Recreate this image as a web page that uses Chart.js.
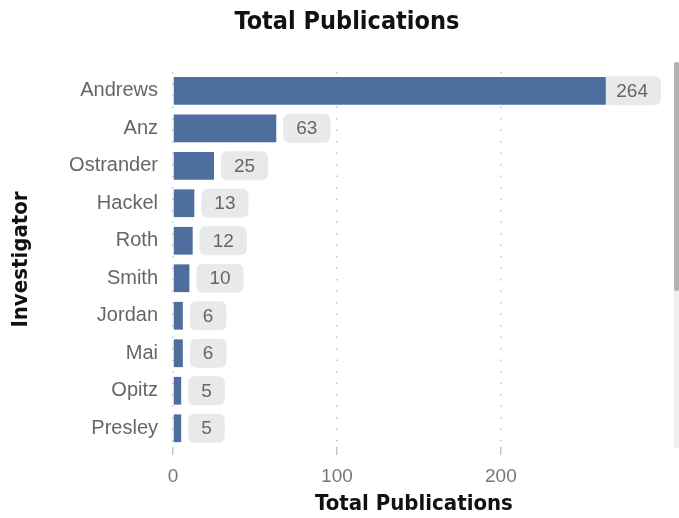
<!DOCTYPE html>
<html>
<head>
<meta charset="utf-8">
<script src="https://cdn.jsdelivr.net/npm/chart.js@4"></script>
<style>
  body { margin: 0; background: #fff; }
  #wrap { position: relative; width: 679px; height: 518px; }
  .track { position: absolute; left: 674px; top: 62px; width: 5px; height: 386px; background: #efefef; border-radius: 2px; }
  .thumb { position: absolute; left: 674px; top: 62px; width: 5px; height: 229px; background: #b3b3b3; border-radius: 2px; }
</style>
</head>
<body>
<div id="wrap">
  <canvas id="pub_Chart" width="679" height="518"></canvas>
  <div class="track"></div>
  <div class="thumb"></div>
</div>
<script>
// data
const investigators = ['Andrews', 'Anz', 'Ostrander', 'Hackel', 'Roth', 'Smith', 'Jordan', 'Mai', 'Opitz', 'Presley'];
const publications = [264, 63, 25, 13, 12, 10, 6, 6, 5, 5];
const xTicks = [0, 100, 200];
const chartTitle = 'Total Publications';

// grey rounded value boxes next to each bar
const valueBoxes = {
  id: 'valueBoxes',
  beforeDatasetsDraw(chart) {
    const ctx = chart.ctx;
    const meta = chart.getDatasetMeta(0);
    ctx.save();
    ctx.font = '19px "Liberation Sans", Arial, sans-serif';
    ctx.textAlign = 'center';
    ctx.textBaseline = 'middle';
    meta.data.forEach((bar, i) => {
      const txt = String(publications[i]);
      const w = ctx.measureText(txt).width + 26;
      const h = 29;
      let x = bar.x + 7;
      if (x + w > 661) x = 661 - w;
      const y = bar.y - h / 2;
      ctx.fillStyle = '#e8e9eb';
      ctx.beginPath();
      ctx.roundRect(x, y, w, h, 6);
      ctx.fill();
      ctx.fillStyle = '#666666';
      ctx.fillText(txt, x + w / 2, bar.y + 1);
    });
    ctx.restore();
  }
};

// main title, drawn a little right of canvas centre like the original visual
const titlePlugin = {
  id: 'titlePlugin',
  afterDraw(chart) {
    const ctx = chart.ctx;
    ctx.save();
    ctx.font = 'bold 25px "DejaVu Sans Condensed", "DejaVu Sans", sans-serif';
    ctx.fillStyle = '#111';
    ctx.textAlign = 'center';
    ctx.textBaseline = 'middle';
    ctx.fillText(chartTitle, 347, 22);
    ctx.restore();
  }
};

const data = {
  labels: investigators,
  datasets: [{
    label: 'Total Publications',
    data: publications,
    backgroundColor: '#4e6e9e',
    borderWidth: 0,
    barPercentage: 0.74,
    categoryPercentage: 1.0
  }]
};

const config = {
  type: 'bar',
  data: data,
  plugins: [valueBoxes, titlePlugin],
  options: {
    indexAxis: 'y',
    responsive: false,
    animation: false,
    layout: { padding: { top: 72, right: 24, left: 0, bottom: 0 } },
    plugins: {
      legend: { display: false },
      tooltip: { enabled: false },
      title: { display: false }
    },
    scales: {
      x: {
        min: 0,
        max: 294,
        afterBuildTicks: (scale) => {
          scale.ticks = xTicks.map(v => ({ value: v }));
        },
        afterFit: (scale) => { scale.height = 71; },
        border: { display: false, dash: [1.5, 10] },
        grid: {
          color: '#c4c4c4',
          lineWidth: 1.5,
          tickLength: 8,
          tickColor: '#c4c4c4'
        },
        ticks: {
          padding: 10,
          color: '#777',
          font: { family: '"Liberation Sans", Arial, sans-serif', size: 19 }
        },
        title: {
          display: true,
          text: 'Total Publications',
          color: '#111',
          font: { family: '"DejaVu Sans Condensed", "DejaVu Sans", sans-serif', size: 22, weight: 'bold' },
          padding: { top: 0, bottom: 1 }
        }
      },
      y: {
        afterFit: (scale) => { scale.width = 173; },
        border: { display: false },
        grid: { display: false },
        ticks: {
          padding: 7,
          color: '#666',
          font: { family: '"Liberation Sans", Arial, sans-serif', size: 20 }
        },
        title: {
          display: true,
          text: 'Investigator',
          color: '#111',
          font: { family: '"DejaVu Sans Condensed", "DejaVu Sans", sans-serif', size: 22, weight: 'bold' },
          padding: { top: 8, bottom: 0 }
        }
      }
    }
  }
};

// dotted vertical grid lines
config.options.scales.x.grid.borderDash = [1.5, 10];

const myChart = new Chart(
  document.getElementById('pub_Chart'),
  config
);
</script>
</body>
</html>
